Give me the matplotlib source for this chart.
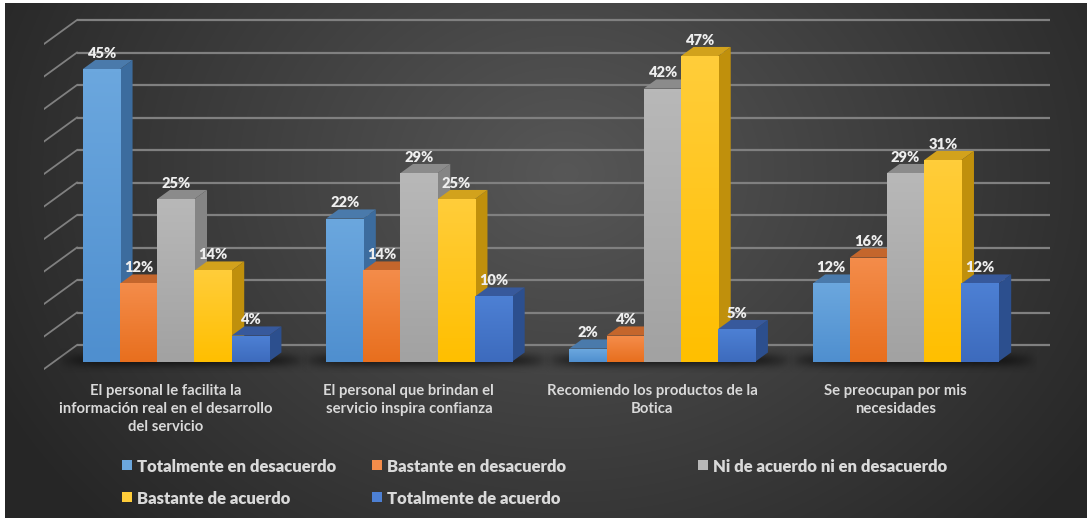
import numpy as np
import matplotlib.pyplot as plt
from matplotlib.patches import Polygon, Rectangle
from matplotlib.colors import LinearSegmentedColormap, to_rgb

# ============================================================
# Datos
# ============================================================
categorias = [
    "El personal le facilita la\ninformación real en el desarrollo\ndel servicio",
    "El personal que brindan el\nservicio inspira confianza",
    "Recomiendo los productos de la\nBotica",
    "Se preocupan por mis\nnecesidades",
]
series = [
    "Totalmente en desacuerdo",
    "Bastante en desacuerdo",
    "Ni de acuerdo ni en desacuerdo",
    "Bastante de acuerdo",
    "Totalmente de acuerdo",
]
tot_desacuerdo = [45, 22, 2, 12]
bas_desacuerdo = [12, 14, 4, 16]
ni_ni = [25, 29, 42, 29]
bas_acuerdo = [14, 25, 47, 31]
tot_acuerdo = [4, 10, 5, 12]
valores = [tot_desacuerdo, bas_desacuerdo, ni_ni, bas_acuerdo, tot_acuerdo]
lineas_grid = list(range(0, 55, 5))

# colores: frente arriba, frente abajo, lateral, tapa
colores = [
    ("#6ba7de", "#4f8fcf", "#3c6c9e", "#4a7aab"),
    ("#f48c4a", "#e86f1e", "#b65a1d", "#c4662c"),
    ("#b8b8b8", "#a2a2a2", "#858585", "#8b8b8b"),
    ("#ffcd3a", "#ffbf00", "#c0900c", "#d2a21c"),
    ("#4d80d4", "#3d6bbd", "#2c4f8e", "#37599c"),
]

# ============================================================
# Geometria del grafico 3D
# ============================================================
DX, DY = 0.1356, 3.69      # desplazamiento de profundidad (x en categorias, y en %)
D0, D1 = 0.31, 0.69        # profundidad de las barras
GAP = 0.1175
W = (1 - 2 * GAP) / 5

FW, FH = 1087, 518
fig = plt.figure(figsize=(FW / 100, FH / 100), dpi=100)
fig.patch.set_facecolor("white")

# fondo con degradado
bg = fig.add_axes([5 / FW, 0, 1082 / FW, 515 / FH])
bg.set_axis_off()
yy, xx = np.mgrid[0:515, 0:1082]
t = np.sqrt(((xx - 560) / 640.0) ** 2 + ((yy - 170) / 520.0) ** 2)
t = np.clip(t, 0, 1)
c_in, c_out = np.array(to_rgb("#575757")), np.array(to_rgb("#262626"))
img = c_in[None, None, :] * (1 - t[..., None]) + c_out[None, None, :] * t[..., None]
bg.imshow(img, aspect="auto", extent=(0, 1, 0, 1), origin="upper")
bg.set_xlim(0, 1)
bg.set_ylim(0, 1)

# ejes principales en coordenadas (categoria, %)
ax = fig.add_axes([44 / FW, (FH - 382) / FH, 1006 / FW, 364 / FH])
ax.set_axis_off()
ax.patch.set_alpha(0)

# rejilla: pared del fondo + diagonales laterales
for g in lineas_grid:
    ax.plot([DX, 4 + DX], [g + DY, g + DY], color="#808080", lw=1.6, zorder=1,
            solid_capstyle="butt")
    ax.plot([0, DX], [g, g + DY], color="#808080", lw=1.3, zorder=1)

# sombra en el suelo debajo de cada grupo
sy, sx = np.mgrid[0:40, 0:200]
for i in range(4):
    u = (sx - 100) / 100.0
    v = (sy - 20) / 20.0
    a = np.clip(1 - np.abs(u) ** 6, 0, 1) * np.exp(-(v * 1.8) ** 2) * 0.55
    sh = np.zeros((40, 200, 4))
    sh[..., 3] = a
    ax.imshow(sh, extent=(i + GAP - 0.06, i + 1 - GAP + DX + 0.06, -0.6, 3.2),
              aspect="auto", zorder=2, origin="lower")

z = 10
for i in range(len(categorias)):
    for j, vals in enumerate(valores):
        h = vals[i]
        ct, cb, cs, ctop = colores[j]
        x0 = i + GAP + j * W
        x1 = x0 + W
        # lateral derecha
        side = Polygon([(x1 + D0 * DX, D0 * DY), (x1 + D1 * DX, D1 * DY),
                        (x1 + D1 * DX, h + D1 * DY), (x1 + D0 * DX, h + D0 * DY)],
                       closed=True, facecolor=cs, edgecolor="none", zorder=z)
        ax.add_patch(side)
        # tapa
        top = Polygon([(x0 + D0 * DX, h + D0 * DY), (x1 + D0 * DX, h + D0 * DY),
                       (x1 + D1 * DX, h + D1 * DY), (x0 + D1 * DX, h + D1 * DY)],
                      closed=True, facecolor=ctop, edgecolor="none", zorder=z + 1)
        ax.add_patch(top)
        # frente con degradado vertical
        cmap = LinearSegmentedColormap.from_list("f", [cb, ct])
        grad = np.linspace(0, 1, 64).reshape(-1, 1)
        ax.imshow(grad, cmap=cmap, aspect="auto", origin="lower",
                  extent=(x0 + D0 * DX, x1 + D0 * DX, D0 * DY, h + D0 * DY),
                  zorder=z + 2, interpolation="bilinear")
        z += 3
        # etiqueta de valor
        ax.text(x0 + W / 2 + D0 * DX, h + D1 * DY + 0.35, f"{h}%",
                ha="center", va="baseline", color="#eeeeee", fontsize=10.5,
                fontweight="heavy", family="Lato", zorder=500)

# etiquetas de categoria
for i, cat in enumerate(categorias):
    ax.text(i + 0.5, -2.3, cat, ha="center", va="top", color="#d9d9d9",
            fontsize=10.7, fontweight="bold", family="Lato", linespacing=1.37,
            zorder=500)

ax.set_xlim(0, 4 + DX)
ax.set_ylim(-2, 54)

# leyenda (orden por filas, columnas fijas)
col_x = [122, 372, 698]
fila_y = [465, 497]
for j, nombre in enumerate(series):
    fila, col = divmod(j, 3)
    x, y = col_x[col], fila_y[fila]
    fig.add_artist(Rectangle((x / FW, (FH - y - 4.5) / FH), 10 / FW, 10 / FH,
                             transform=fig.transFigure, facecolor=colores[j][0],
                             edgecolor="none"))
    fig.text((x + 15) / FW, (FH - y) / FH, nombre, ha="left", va="center_baseline",
             color="#d9d9d9", fontsize=12, fontweight="heavy", family="Lato")

fig.savefig("out.png", dpi=100, facecolor=fig.get_facecolor())
